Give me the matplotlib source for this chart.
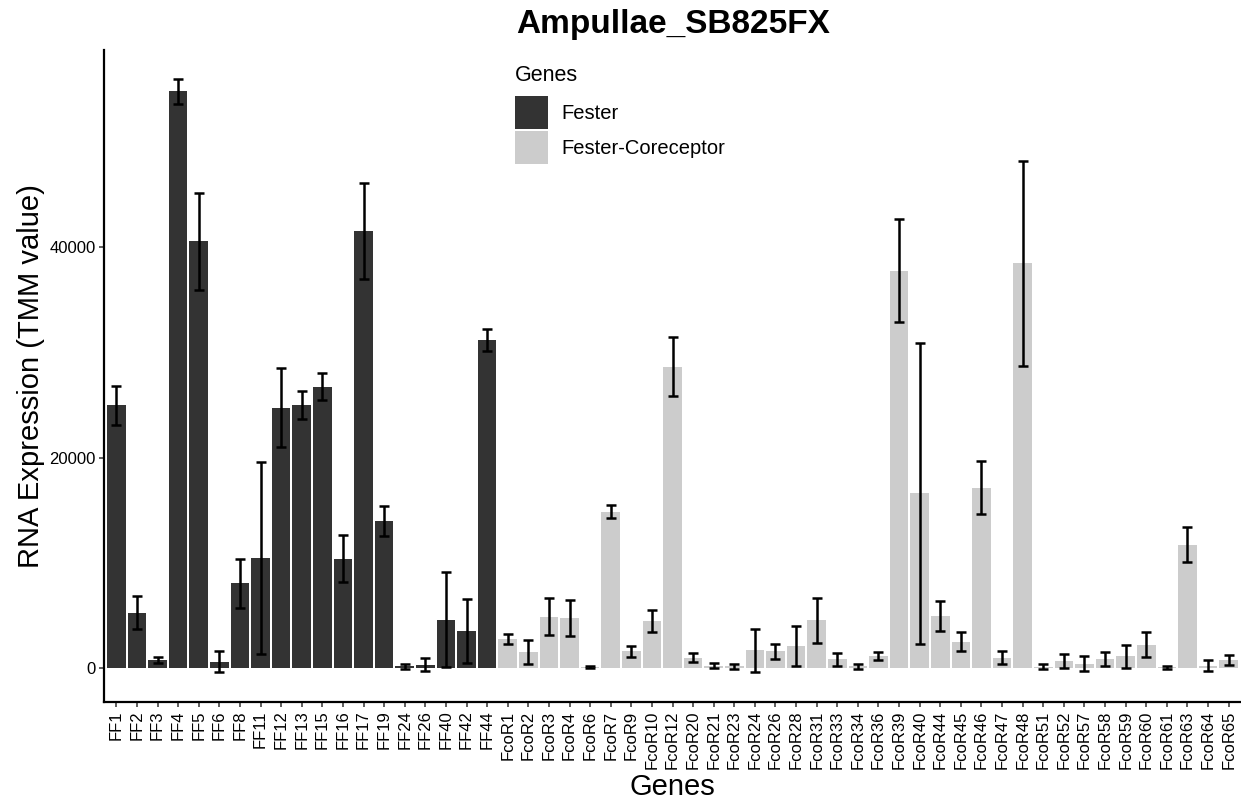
import numpy as np
import matplotlib.pyplot as plt
from matplotlib.patches import Patch

plt.rcParams['font.family'] = ['Liberation Sans', 'DejaVu Sans']

# Fester genes
fester_genes = ['FF1', 'FF2', 'FF3', 'FF4', 'FF5', 'FF6', 'FF8', 'FF11', 'FF12',
                'FF13', 'FF15', 'FF16', 'FF17', 'FF19', 'FF24', 'FF26', 'FF40',
                'FF42', 'FF44']
fester_mean = [24970, 5270, 720, 54820, 40550, 590, 8030, 10490, 24750,
               24970, 26750, 10400, 41530, 14010, 150, 300, 4590,
               3480, 31210]
fester_err = [1870, 1600, 280, 1150, 4650, 1020, 2350, 9130, 3780,
              1320, 1270, 2250, 4540, 1420, 250, 600, 4520,
              3040, 1060]

# Fester-Coreceptor genes
coreceptor_genes = ['FcoR1', 'FcoR2', 'FcoR3', 'FcoR4', 'FcoR6', 'FcoR7', 'FcoR9',
                    'FcoR10', 'FcoR12', 'FcoR20', 'FcoR21', 'FcoR23', 'FcoR24',
                    'FcoR26', 'FcoR28', 'FcoR31', 'FcoR33', 'FcoR34', 'FcoR36',
                    'FcoR39', 'FcoR40', 'FcoR44', 'FcoR45', 'FcoR46', 'FcoR47',
                    'FcoR48', 'FcoR51', 'FcoR52', 'FcoR57', 'FcoR58', 'FcoR59',
                    'FcoR60', 'FcoR61', 'FcoR63', 'FcoR64', 'FcoR65']
coreceptor_mean = [2720, 1490, 4880, 4710, 100, 14860, 1570,
                   4460, 28660, 980, 220, 150, 1660,
                   1570, 2120, 4540, 810, 150, 1100,
                   37790, 16600, 4970, 2510, 17150, 980,
                   38470, 130, 640, 420, 890, 1100,
                   2210, 80, 11720, 210, 720]
coreceptor_err = [470, 1150, 1740, 1720, 120, 640, 530,
                  1060, 2820, 450, 230, 230, 2080,
                  700, 1890, 2150, 600, 250, 380,
                  4900, 14290, 1420, 930, 2550, 620,
                  9720, 220, 680, 700, 660, 1080,
                  1190, 150, 1660, 500, 470]

fester_color = '#333333'
coreceptor_color = '#CCCCCC'

genes = fester_genes + coreceptor_genes
means = fester_mean + coreceptor_mean
errs = fester_err + coreceptor_err
colors = [fester_color] * len(fester_genes) + [coreceptor_color] * len(coreceptor_genes)
x = np.arange(len(genes))

fig = plt.figure(figsize=(12.41, 8.0), dpi=100)
ax = fig.add_axes([104 / 1241, 98 / 800, 1137 / 1241, 652 / 800])

ax.bar(x, means, width=0.9, color=colors, edgecolor='none', zorder=2)
ax.errorbar(x, means, yerr=errs, fmt='none', ecolor='black', elinewidth=1.8,
            capsize=3.5, capthick=1.8, zorder=3)

ax.set_xlim(-0.6, len(genes) - 0.4)
ax.set_ylim(-3240, 58760)
ax.set_yticks([0, 20000, 40000])
ax.set_yticklabels(['0', '20000', '40000'])
ax.set_xticks(x)
ax.set_xticklabels(genes, rotation=90)
ax.tick_params(axis='both', colors='#333333', labelcolor='black', length=3.6,
               width=1.1, labelsize=12, pad=2.5)

for side in ['top', 'right']:
    ax.spines[side].set_visible(False)
for side in ['left', 'bottom']:
    ax.spines[side].set_linewidth(1.6)
    ax.spines[side].set_color('black')

ax.set_xlabel('Genes', fontsize=21, labelpad=3)
ax.set_ylabel('RNA Expression (TMM value)', fontsize=21, labelpad=3)
fig.text(673 / 1241, 1 - 33 / 800, 'Ampullae_SB825FX', fontsize=24,
         fontweight='bold', ha='center', va='baseline')

# legend: title as its own text so the gap above the keys can be set
fig.text(515 / 1241, 1 - 81 / 800, 'Genes', fontsize=15.5, ha='left', va='baseline')
handles = [Patch(facecolor=fester_color, label='Fester'),
           Patch(facecolor=coreceptor_color, label='Fester-Coreceptor')]
leg = ax.legend(handles=handles, loc='upper left',
                bbox_to_anchor=(507 / 1241, 1 - 88 / 800), bbox_transform=fig.transFigure,
                frameon=False, fontsize=14.5, borderaxespad=0,
                handlelength=1.64, handleheight=2.12, labelspacing=0.12,
                handletextpad=0.65)

fig.savefig('out.png', dpi=100)
